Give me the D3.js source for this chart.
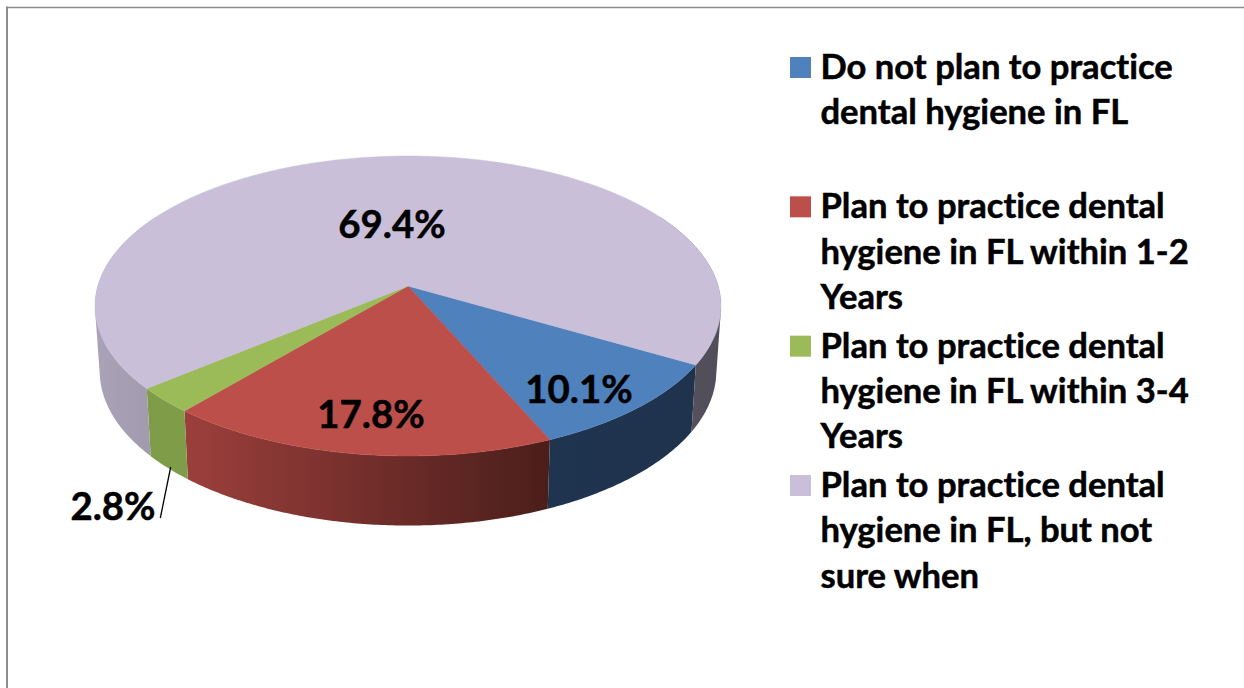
<!DOCTYPE html>
<html>
<head>
<meta charset="utf-8">
<script src="https://cdn.jsdelivr.net/npm/d3@7"></script>
<style>
  html, body { margin: 0; padding: 0; background: #fff; }
  svg { display: block; }
  text {
    font-family: "Lato", "Open Sans", sans-serif;
    font-weight: 700;
    font-variant-ligatures: none;
    fill: #000;
    stroke: #000;
    stroke-width: 0.5px;
  }
</style>
</head>
<body>
<svg id="chart" width="1244" height="688"></svg>
<script>
const categories = [
    ["Do not plan to practice", "dental hygiene in FL"],
    ["Plan to practice dental", "hygiene in FL within 1-2", "Years"],
    ["Plan to practice dental", "hygiene in FL within 3-4", "Years"],
    ["Plan to practice dental", "hygiene in FL, but not", "sure when"]
];
const shares = [10.1, 17.8, 2.8, 69.4];
const shareLabels = ["10.1%", "17.8%", "2.8%", "69.4%"];

const topColors = ["#4f81bd", "#bd4f4b", "#9bbb59", "#c9bfd9"];
const wallStops = [
    ["#1f344f", "#1f334d"],
    ["#9c3f3c", "#4a1e1a"],
    ["#7f9d49", "#7f9d49"],
    ["#aaa2b6", "#504c58"]
];
const labelBaselines = [[579, 402.5], [371, 427.5], [113, 520], [392, 238]];

const svg = d3.select("#chart");
const defs = svg.append("defs");

// frame of the original slide
svg.append("path")
    .attr("d", "M7,688V6.5")
    .attr("fill", "none")
    .attr("stroke", "#8c8c8c")
    .attr("stroke-width", 2);
svg.append("path")
    .attr("d", "M6,7.5H1244")
    .attr("fill", "none")
    .attr("stroke", "#8c8c8c")
    .attr("stroke-width", 1.5);

// perspective of the pie, fitted to the rim of the picture
const apexX = 408, apexY = 286;
const radiusX = 310.2, radiusY = 147.3, tilt = 0.1333;
const wallDrop = 64.5, wallScaleX = 0.985, wallScaleY = 1.03;
const startAngle = 120 * Math.PI / 180;

function rim(angle) {
    const x = Math.sin(angle);
    const y = -Math.cos(angle);
    const w = 1 - tilt * y;
    return [apexX + radiusX * x / w, apexY + radiusY * y / w];
}

function rimBottom(angle) {
    const p = rim(angle);
    return [apexX + (p[0] - apexX) * wallScaleX,
            apexY + wallDrop + (p[1] - apexY) * wallScaleY];
}

function samples(a0, a1) {
    const n = Math.max(2, Math.ceil((a1 - a0) / 0.01));
    return d3.range(n + 1).map(i => a0 + (a1 - a0) * i / n);
}

const pie = d3.pie()
    .sort(null)
    .value(d => d)
    .startAngle(startAngle)
    .endAngle(startAngle + 2 * Math.PI);
const slices = pie(shares);
const line = d3.line();

// walls first, the top face covers whatever is behind it
const frontSpans = [[Math.PI / 3, Math.PI * 5 / 3], [Math.PI * 7 / 3, Math.PI * 11 / 3]];

slices.forEach((s, i) => {
    const spans = frontSpans
        .map(f => [Math.max(f[0], s.startAngle), Math.min(f[1], s.endAngle)])
        .filter(f => f[1] > f[0]);
    const xs = spans.flatMap(f => samples(f[0], f[1]).map(a => rim(a)[0]));
    const gradId = "wall" + i;
    const grad = defs.append("linearGradient")
        .attr("id", gradId)
        .attr("gradientUnits", "userSpaceOnUse")
        .attr("x1", d3.min(xs)).attr("x2", d3.max(xs))
        .attr("y1", 0).attr("y2", 0);
    grad.selectAll("stop")
        .data(wallStops[i])
        .join("stop")
        .attr("offset", (d, j) => j)
        .attr("stop-color", d => d);

    // one quad per sample, all wound the same way, so the sweep also fills
    // the straight silhouette at the far left and right
    const quads = spans.flatMap(f => {
        const angles = samples(f[0], f[1]);
        return d3.pairs(angles).map(([a, b]) => {
            const quad = [rim(a), rim(b), rimBottom(b), rimBottom(a)];
            return d3.polygonArea(quad) < 0 ? quad.reverse() : quad;
        });
    });
    svg.append("path")
        .attr("d", quads.map(q => line(q) + "Z").join(""))
        .attr("fill", `url(#${gradId})`);
});

// top faces
svg.append("g")
    .selectAll("path")
    .data(slices)
    .join("path")
    .attr("d", d => line([[apexX, apexY]].concat(samples(d.startAngle, d.endAngle).map(rim))) + "Z")
    .attr("fill", (d, i) => topColors[i])
    .attr("stroke", (d, i) => topColors[i])
    .attr("stroke-width", 0.5);

// value labels
svg.append("g")
    .selectAll("text")
    .data(shareLabels)
    .join("text")
    .attr("x", (d, i) => labelBaselines[i][0])
    .attr("y", (d, i) => labelBaselines[i][1])
    .attr("text-anchor", "middle")
    .attr("font-size", 38.4)
    .text(d => d);

// leader for the small slice
svg.append("line")
    .attr("x1", 170.7).attr("y1", 467)
    .attr("x2", 160.3).attr("y2", 518)
    .attr("stroke", "#000")
    .attr("stroke-width", 1.3);

// legend
const legendY = d3.scaleLinear().domain([0, 3]).range([57, 475]);
const legend = svg.append("g")
    .selectAll("g")
    .data(categories)
    .join("g")
    .attr("transform", (d, i) => `translate(790,${legendY(i)})`);

legend.append("rect")
    .attr("width", 21)
    .attr("height", 21)
    .attr("fill", (d, i) => topColors[i]);

legend.selectAll("text")
    .data(d => d)
    .join("text")
    .attr("x", 30.5)
    .attr("y", (d, i) => 22 + i * 45.3)
    .attr("font-size", 34.6)
    .text(d => d);
</script>
</body>
</html>
